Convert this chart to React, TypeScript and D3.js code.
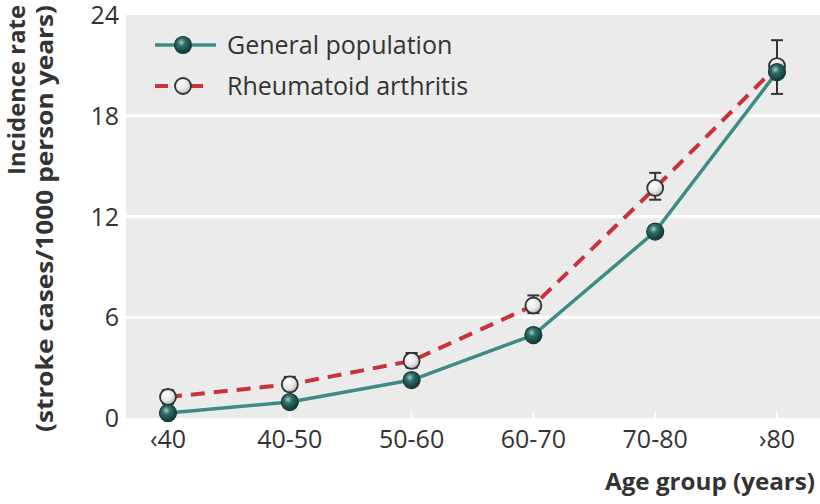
import React from "react";
import * as d3 from "d3";

const categories = ["‹40", "40-50", "50-60", "60-70", "70-80", "›80"];
const generalPopulation = [0.3, 0.95, 2.26, 4.94, 11.1, 20.6];
const rheumatoid = [1.25, 2.0, 3.4, 6.7, 13.7, 20.96];
const raLower = [0.85, 1.65, 3.0, 6.25, 13.0, 19.3];
const raUpper = [1.65, 2.45, 3.87, 7.3, 14.6, 22.5];
const yTicks = [0, 6, 12, 18, 24];

const W = 820;
const H = 504;
const plot = { left: 126, right: 820, top: 15, bottom: 418 };
const FONT = "'Open Sans', 'Noto Sans', sans-serif";

export default function App() {
  const x = d3
    .scalePoint<string>()
    .domain(categories)
    .range([168, 777]);
  const y = d3.scaleLinear().domain([0, 24]).range([plot.bottom, plot.top]);

  const line = d3
    .line<number>()
    .x((_, i) => x(categories[i]) as number)
    .y((d) => y(d));

  const teal = "#3e8a86";
  const red = "#c8323a";

  return (
    <svg
      width={W}
      height={H}
      style={{ position: "absolute", left: 0, top: 0, background: "#fff" }}
      fontFamily={FONT}
    >
      <defs>
        <radialGradient id="gDark" cx="0.4" cy="0.35" r="0.65">
          <stop offset="0" stopColor="#9fd0cb" />
          <stop offset="0.35" stopColor="#2f6e6a" />
          <stop offset="1" stopColor="#113432" />
        </radialGradient>
        <radialGradient id="gLight" cx="0.4" cy="0.35" r="0.65">
          <stop offset="0" stopColor="#ffffff" />
          <stop offset="0.6" stopColor="#e6e6e6" />
          <stop offset="1" stopColor="#b5b5b5" />
        </radialGradient>
      </defs>
      <rect
        x={plot.left}
        y={plot.top}
        width={plot.right - plot.left}
        height={plot.bottom - plot.top}
        fill="#ebebeb"
      />
      {yTicks.slice(1, -1).map((t) => (
        <line
          key={t}
          x1={plot.left}
          x2={plot.right}
          y1={y(t)}
          y2={y(t)}
          stroke="#fff"
          strokeWidth={3}
        />
      ))}
      {categories.map((c) => (
        <line
          key={c}
          x1={x(c)}
          x2={x(c)}
          y1={plot.bottom}
          y2={plot.bottom - 6}
          stroke="#fff"
          strokeWidth={2}
        />
      ))}
      {yTicks.map((t) => (
        <text
          key={t}
          x={119}
          y={y(t)}
          dy="0.36em"
          textAnchor="end"
          fontSize={25}
          fill="#333"
        >
          {t}
        </text>
      ))}
      {categories.map((c) => (
        <text
          key={c}
          x={x(c)}
          y={448}
          textAnchor="middle"
          fontSize={25}
          fill="#333"
        >
          {c}
        </text>
      ))}
      <text
        x={815}
        y={490}
        textAnchor="end"
        fontSize={24}
        fontWeight="bold"
        fill="#333"
        textLength={210}
        lengthAdjust="spacingAndGlyphs"
      >
        Age group (years)
      </text>
      <text
        transform="translate(25,5) rotate(-90)"
        textAnchor="end"
        fontSize={24}
        fontWeight="bold"
        fill="#333"
        textLength={170}
        lengthAdjust="spacingAndGlyphs"
      >
        Incidence rate
      </text>
      <text
        transform="translate(53,5) rotate(-90)"
        textAnchor="end"
        fontSize={24}
        fontWeight="bold"
        fill="#333"
        textLength={427}
        lengthAdjust="spacingAndGlyphs"
      >
        (stroke cases/1000 person years)
      </text>

      <path
        d={line(rheumatoid) || ""}
        fill="none"
        stroke={red}
        strokeWidth={4}
        strokeDasharray="14 9"
      />
      <path
        d={line(generalPopulation) || ""}
        fill="none"
        stroke={teal}
        strokeWidth={3.5}
      />
      {categories.map((c, i) => {
        const cx = x(c) as number;
        return (
          <g key={c} stroke="#333" strokeWidth={2} fill="none">
            <line x1={cx} x2={cx} y1={y(raLower[i])} y2={y(raUpper[i])} />
            <line x1={cx - 6} x2={cx + 6} y1={y(raLower[i])} y2={y(raLower[i])} />
            <line x1={cx - 6} x2={cx + 6} y1={y(raUpper[i])} y2={y(raUpper[i])} />
          </g>
        );
      })}
      {rheumatoid.map((v, i) => (
        <circle
          key={i}
          cx={x(categories[i])}
          cy={y(v)}
          r={8}
          fill="url(#gLight)"
          stroke="#333"
          strokeWidth={1.8}
        />
      ))}
      {generalPopulation.map((v, i) => (
        <circle
          key={i}
          cx={x(categories[i])}
          cy={y(v)}
          r={8.5}
          fill="url(#gDark)"
          stroke="#1b3b39"
          strokeWidth={1.2}
        />
      ))}

      {/* legend */}
      <line x1={155} x2={216} y1={45} y2={45} stroke={teal} strokeWidth={3.5} />
      <circle cx={183} cy={45} r={8.5} fill="url(#gDark)" stroke="#1b3b39" strokeWidth={1.2} />
      <text x={227} y={45} dy="0.36em" fontSize={25} fill="#333">
        General population
      </text>
      <line x1={155} x2={216} y1={86} y2={86} stroke={red} strokeWidth={4} strokeDasharray="13 22" />
      <circle cx={183} cy={86} r={8} fill="url(#gLight)" stroke="#333" strokeWidth={1.8} />
      <text x={227} y={86} dy="0.36em" fontSize={25} fill="#333">
        Rheumatoid arthritis
      </text>
    </svg>
  );
}
